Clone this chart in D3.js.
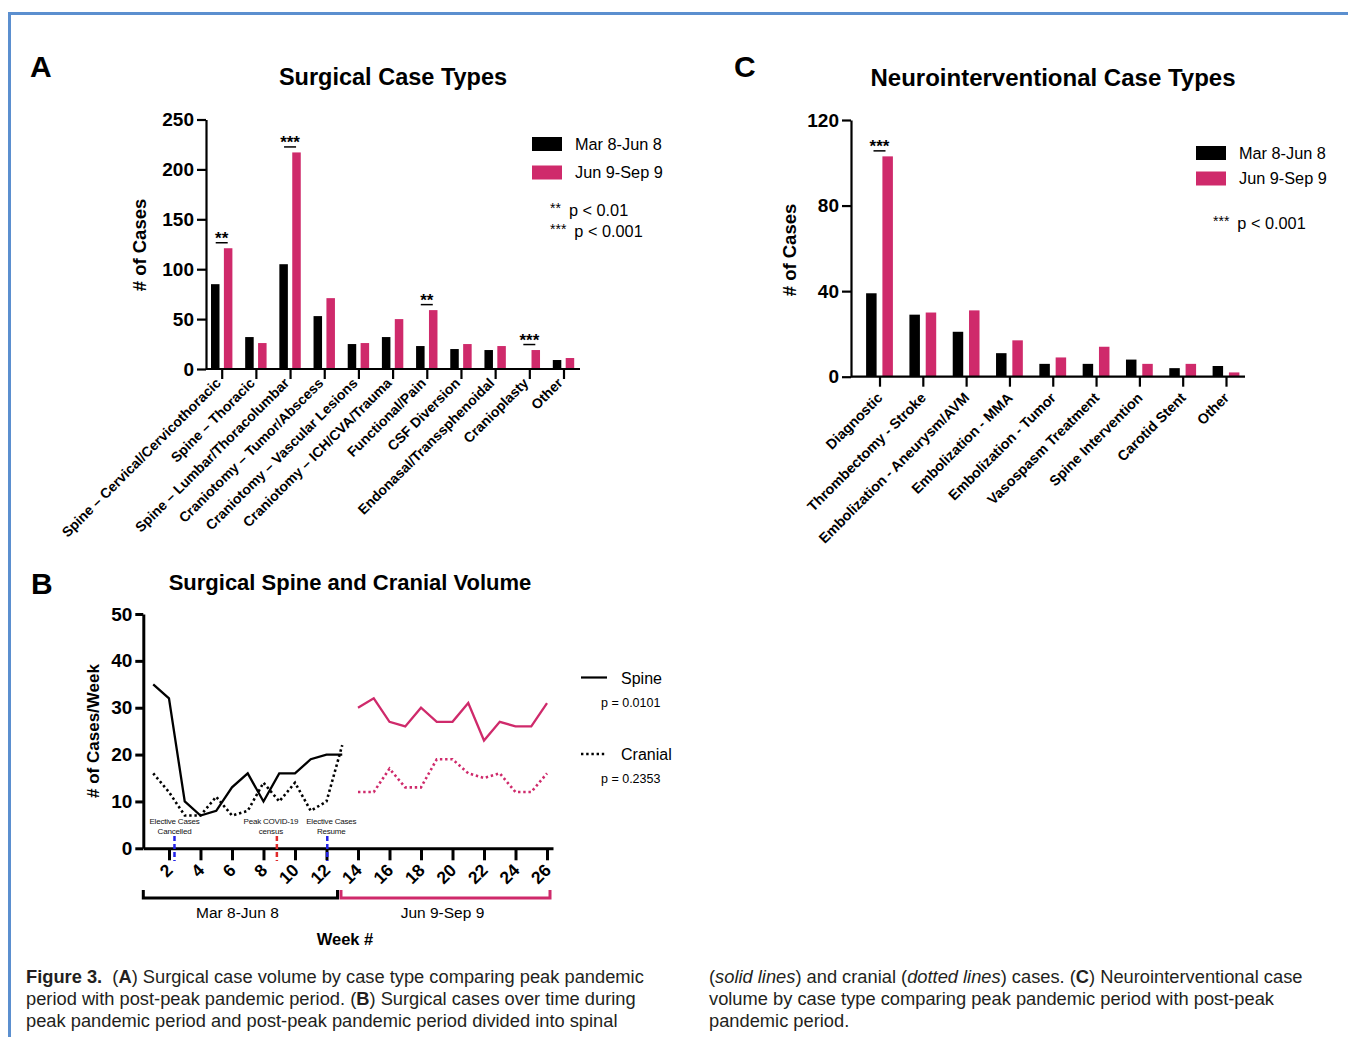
<!DOCTYPE html>
<html>
<head>
<meta charset="utf-8">
<script src="https://cdn.jsdelivr.net/npm/d3@7"></script>
<style>
  body { margin: 0; background: #fff; }
  svg { display: block; font-family: Arial, "Liberation Sans", Helvetica, sans-serif; }
</style>
</head>
<body>
<div id="chart"></div>
<script>
// ---------- data ----------
var periods = ["Mar 8-Jun 8", "Jun 9-Sep 9"];

// A - surgical case types
var surgCategories = ["Spine – Cervical/Cervicothoracic", "Spine – Thoracic", "Spine – Lumbar/Thoracolumbar",
  "Craniotomy – Tumor/Abscess", "Craniotomy – Vascular Lesions", "Craniotomy – ICH/CVA/Trauma",
  "Functional/Pain", "CSF Diversion", "Endonasal/Transsphenoidal", "Cranioplasty", "Other"];
var surgPeak = [85, 32, 105, 53, 25, 32, 23, 20, 19, 0, 9];
var surgPost = [121, 26, 217, 71, 26, 50, 59, 25, 23, 19, 11];
var surgSig = [
  {cat: "Spine – Cervical/Cervicothoracic", label: "**"},
  {cat: "Spine – Lumbar/Thoracolumbar", label: "***"},
  {cat: "Functional/Pain", label: "**"},
  {cat: "Cranioplasty", label: "***"}
];
var surgYTicks = [0, 50, 100, 150, 200, 250];

// C - neurointerventional case types
var niCategories = ["Diagnostic", "Thrombectomy - Stroke", "Embolization - Aneurysm/AVM", "Embolization - MMA",
  "Embolization - Tumor", "Vasospasm Treatment", "Spine Intervention", "Carotid Stent", "Other"];
var niPeak = [39, 29, 21, 11, 6, 6, 8, 4, 5];
var niPost = [103, 30, 31, 17, 9, 14, 6, 6, 2];
var niSig = [{cat: "Diagnostic", label: "***"}];
var niYTicks = [0, 40, 80, 120];

// B - weekly volume
var weeksPeak = [1, 2, 3, 4, 5, 6, 7, 8, 9, 10, 11, 12, 13];
var weeksPost = [14, 15, 16, 17, 18, 19, 20, 21, 22, 23, 24, 25, 26];
var spinePeak = [35, 32, 10, 7, 8, 13, 16, 10, 16, 16, 19, 20, 20];
var cranialPeak = [16, 12, 7, 7, 11, 7, 8, 14, 10, 14, 8, 10, 22];
var spinePost = [30, 32, 27, 26, 30, 27, 27, 31, 23, 27, 26, 26, 31];
var cranialPost = [12, 12, 17, 13, 13, 19, 19, 16, 15, 16, 12, 12, 16];
var weekTicks = [2, 4, 6, 8, 10, 12, 14, 16, 18, 20, 22, 24, 26];
var weeklyYTicks = [0, 10, 20, 30, 40, 50];
var events = [
  {week: 2.35, lines: ["Elective Cases", "Cancelled"], color: "#2323e8", dx: 0},
  {week: 8.85, lines: ["Peak COVID-19", "census"], color: "#e02a2a", dx: -6},
  {week: 12.05, lines: ["Elective Cases", "Resume"], color: "#2323e8", dx: 4}
];

var PINK = "#cf2a6b";
var color = d3.scaleOrdinal().domain(periods).range(["#000", PINK]);

var svg = d3.select("#chart").append("svg")
    .attr("width", 1348)
    .attr("height", 1037);

// frame
svg.append("path")
  .attr("d", "M1348,13.5H9.5V1037")
  .attr("fill", "none")
  .attr("stroke", "#5b8fcf")
  .attr("stroke-width", 3);

function styleAxis(sel, w, fs) {
  sel.selectAll("path, line").attr("stroke", "#000").attr("stroke-width", w);
  sel.selectAll("text").attr("font-size", fs).attr("font-weight", "bold").attr("fill", "#000")
    .attr("font-family", "Arial, 'Liberation Sans', sans-serif");
}

/* ---------------------- */
/* BAR PANEL */
/* ---------------------- */
function drawBars(o) {
  var g = svg.append("g");
  var y = d3.scaleLinear().domain([0, o.yMax]).range([o.y0, o.y1]);
  var x = d3.scalePoint().domain(o.categories).range([o.c0, o.c1]);
  var sub = d3.scaleBand().domain(periods).range([-o.half, o.half]).paddingInner(o.gap);

  var rows = o.categories.map(function(c, i) {
    return {cat: c, values: [{p: periods[0], v: o.peak[i]}, {p: periods[1], v: o.post[i]}]};
  });

  g.selectAll("g.grp")
    .data(rows)
    .enter()
    .append("g")
    .attr("class", "grp")
    .attr("transform", d => "translate(" + x(d.cat) + ",0)")
    .selectAll("rect")
    .data(d => d.values)
    .enter()
    .append("rect")
    .attr("x", d => sub(d.p))
    .attr("width", sub.bandwidth())
    .attr("y", d => y(d.v))
    .attr("height", d => y(0) - y(d.v))
    .attr("fill", d => color(d.p));

  // y axis
  var ya = g.append("g")
    .attr("transform", "translate(" + o.xAxis + ",0)")
    .call(d3.axisLeft(y).tickValues(o.yTicks).tickSize(9).tickSizeOuter(0).tickPadding(3));
  styleAxis(ya, 2.2, 19);

  // x axis
  var xa = g.append("g")
    .attr("transform", "translate(0," + y(0) + ")")
    .call(d3.axisBottom(x).tickSize(10).tickFormat(""));
  xa.select(".domain").remove();
  styleAxis(xa, 2.2, 13);
  g.append("line")
    .attr("x1", o.xAxis).attr("x2", o.xEnd)
    .attr("y1", y(0)).attr("y2", y(0))
    .attr("stroke", "#000").attr("stroke-width", 2.2);

  g.selectAll("text.xl")
    .data(o.categories)
    .enter()
    .append("text")
    .attr("class", "xl")
    .attr("text-anchor", "end")
    .attr("font-size", o.lfs)
    .attr("font-weight", "bold")
    .attr("transform", d => "translate(" + (x(d) + o.lx) + "," + (y(0) + o.ly) + ") rotate(-45)")
    .text(d => d);

  // significance marks
  var sig = g.selectAll("g.sig")
    .data(o.sig)
    .enter()
    .append("g")
    .attr("class", "sig")
    .attr("transform", d => "translate(" + x(d.cat) + "," + (y(o.post[o.categories.indexOf(d.cat)]) - 5.5) + ")");
  sig.append("line")
    .attr("x1", -6).attr("x2", 6)
    .attr("stroke", "#000").attr("stroke-width", 1.5);
  sig.append("text")
    .attr("text-anchor", "middle")
    .attr("y", 1)
    .attr("font-size", 17)
    .attr("font-weight", "bold")
    .text(d => d.label);

  // axis title
  g.append("text")
    .attr("transform", "translate(" + o.ylabX + "," + o.ylabY + ") rotate(-90)")
    .attr("text-anchor", "middle")
    .attr("font-size", 18.5)
    .attr("font-weight", "bold")
    .text("# of Cases");

  g.append("text")
    .attr("x", o.titleX).attr("y", o.titleY)
    .attr("text-anchor", "middle")
    .attr("font-size", o.tfs)
    .attr("font-weight", "bold")
    .text(o.title);

  g.append("text")
    .attr("x", o.letterX).attr("y", 77)
    .attr("font-size", 30)
    .attr("font-weight", "bold")
    .text(o.letter);

  // legend
  var lg = g.append("g").attr("transform", "translate(" + o.legX + "," + o.legY + ")");
  var li = lg.selectAll("g")
    .data(periods)
    .enter()
    .append("g")
    .attr("transform", (d, i) => "translate(0," + i * o.legStep + ")");
  li.append("rect").attr("width", 30).attr("height", 14).attr("fill", d => color(d));
  li.append("text").attr("x", 43).attr("y", 12.5).attr("font-size", 16.3).text(d => d);

  var pl = lg.selectAll("text.pv")
    .data(o.pvals)
    .enter()
    .append("text")
    .attr("class", "pv")
    .attr("x", o.pvX)
    .attr("y", (d, i) => o.pvY + i * 21)
    .attr("font-size", 16.3);
  pl.append("tspan").attr("font-size", 14).attr("dy", -3).text(d => d[0]);
  pl.append("tspan").attr("dy", 3).attr("dx", 8).text(d => d[1]);
}

drawBars({
  categories: surgCategories, peak: surgPeak, post: surgPost, sig: surgSig,
  yMax: 250, yTicks: surgYTicks, y0: 369, y1: 119.5,
  c0: 221.7, c1: 563.5, half: 10.7, gap: 0.34,
  xAxis: 206, xEnd: 580, lx: 0, ly: 15, lfs: 14,
  ylabX: 146, ylabY: 245,
  title: "Surgical Case Types", titleX: 393, titleY: 85, tfs: 23.5,
  letter: "A", letterX: 30,
  legX: 532, legY: 137, legStep: 28.5,
  pvals: [["**", "p < 0.01"], ["***", "p < 0.001"]], pvX: 18, pvY: 79
});

drawBars({
  categories: niCategories, peak: niPeak, post: niPost, sig: niSig,
  yMax: 120, yTicks: niYTicks, y0: 376.7, y1: 120,
  c0: 879.5, c1: 1226, half: 13.4, gap: 0.356,
  xAxis: 851, xEnd: 1245, lx: 4, ly: 22, lfs: 14.3,
  ylabX: 796, ylabY: 250,
  title: "Neurointerventional Case Types", titleX: 1053, titleY: 86, tfs: 24,
  letter: "C", letterX: 734,
  legX: 1196, legY: 146, legStep: 25.5,
  pvals: [["***", "p < 0.001"]], pvX: 17, pvY: 83
});

/* ---------------------- */
/* LINE PANEL */
/* ---------------------- */
var gb = svg.append("g");
var xw = d3.scaleLinear().domain([0.37, 26.38]).range([143.3, 553]);
var yw = d3.scaleLinear().domain([0, 50]).range([848.3, 614]);

var line = d3.line().x(d => xw(d.w)).y(d => yw(d.v));
function pts(weeks, vals) { return weeks.map((w, i) => ({w: w, v: vals[i]})); }

var series = [
  {data: pts(weeksPeak, spinePeak), color: "#000", dash: null},
  {data: pts(weeksPeak, cranialPeak), color: "#000", dash: "2.4,2.8"},
  {data: pts(weeksPost, spinePost), color: PINK, dash: null},
  {data: pts(weeksPost, cranialPost), color: PINK, dash: "2.4,2.8"}
];

gb.selectAll("path.series")
  .data(series)
  .enter()
  .append("path")
  .attr("class", "series")
  .attr("d", d => line(d.data))
  .attr("fill", "none")
  .attr("stroke", d => d.color)
  .attr("stroke-width", d => d.dash ? 2.6 : 2.3)
  .attr("stroke-dasharray", d => d.dash);

var yaw = gb.append("g")
  .attr("transform", "translate(" + xw(0.37) + ",0)")
  .call(d3.axisLeft(yw).tickValues(weeklyYTicks).tickSize(8).tickSizeOuter(0).tickPadding(3));
styleAxis(yaw, 3, 19);

var xaw = gb.append("g")
  .attr("transform", "translate(0," + yw(0) + ")")
  .call(d3.axisBottom(xw).tickValues(weekTicks).tickSize(12).tickSizeOuter(0).tickFormat(""));
styleAxis(xaw, 3, 17);

gb.selectAll("text.wk")
  .data(weekTicks)
  .enter()
  .append("text")
  .attr("class", "wk")
  .attr("text-anchor", "end")
  .attr("font-size", 17.5)
  .attr("font-weight", "bold")
  .attr("transform", d => "translate(" + (xw(d) + 5) + "," + (yw(0) + 23) + ") rotate(-45)")
  .text(d => d);

// events
var ev = gb.selectAll("g.ev")
  .data(events)
  .enter()
  .append("g")
  .attr("class", "ev")
  .attr("transform", d => "translate(" + xw(d.week) + ",0)");
ev.append("line")
  .attr("y1", 836).attr("y2", 861)
  .attr("stroke", d => d.color)
  .attr("stroke-width", 2.5)
  .attr("stroke-dasharray", "5,3");
ev.selectAll("text")
  .data(d => d.lines.map(t => ({t: t, dx: d.dx})))
  .enter()
  .append("text")
  .attr("x", d => d.dx)
  .attr("y", (d, i) => 823.5 + i * 10)
  .attr("text-anchor", "middle")
  .attr("font-size", 8)
  .attr("letter-spacing", -0.2)
  .attr("fill", "#111")
  .text(d => d.t);

// period brackets
var brackets = [
  {from: 0.37, to: 12.7, color: "#000", label: periods[0]},
  {from: 12.92, to: 26.19, color: PINK, label: periods[1]}
];
gb.selectAll("path.br")
  .data(brackets)
  .enter()
  .append("path")
  .attr("class", "br")
  .attr("d", d => "M" + xw(d.from) + ",890V898H" + xw(d.to) + "V890")
  .attr("fill", "none")
  .attr("stroke", d => d.color)
  .attr("stroke-width", 3);
gb.selectAll("text.br")
  .data(brackets)
  .enter()
  .append("text")
  .attr("class", "br")
  .attr("x", d => (xw(d.from) + xw(d.to)) / 2 - 3)
  .attr("y", 918)
  .attr("text-anchor", "middle")
  .attr("font-size", 15.5)
  .text(d => d.label);

gb.append("text")
  .attr("x", 345).attr("y", 945)
  .attr("text-anchor", "middle")
  .attr("font-size", 16.5)
  .attr("font-weight", "bold")
  .text("Week #");

gb.append("text")
  .attr("transform", "translate(99,731) rotate(-90)")
  .attr("text-anchor", "middle")
  .attr("font-size", 17)
  .attr("font-weight", "bold")
  .text("# of Cases/Week");

gb.append("text")
  .attr("x", 350).attr("y", 590)
  .attr("text-anchor", "middle")
  .attr("font-size", 22)
  .attr("font-weight", "bold")
  .text("Surgical Spine and Cranial Volume");

gb.append("text")
  .attr("x", 31).attr("y", 594)
  .attr("font-size", 30)
  .attr("font-weight", "bold")
  .text("B");

// legend B
var legB = [
  {name: "Spine", p: "p = 0.0101", dash: null, y: 677.5},
  {name: "Cranial", p: "p = 0.2353", dash: "2.4,2.8", y: 754}
];
var lb = gb.selectAll("g.lb")
  .data(legB)
  .enter()
  .append("g")
  .attr("class", "lb")
  .attr("transform", d => "translate(581," + d.y + ")");
lb.append("line")
  .attr("x1", 0).attr("x2", 26)
  .attr("stroke", "#000")
  .attr("stroke-width", d => d.dash ? 2.4 : 2.2)
  .attr("stroke-dasharray", d => d.dash);
lb.append("text").attr("x", 40).attr("y", 6).attr("font-size", 16).text(d => d.name);
lb.append("text").attr("x", 20).attr("y", 29).attr("font-size", 12.5).text(d => d.p);

/* ---------------------- */
/* CAPTION */
/* ---------------------- */
var caption = [
  {x: 26, y: 983, parts: [["b", "Figure 3."], ["n", "  ("], ["b", "A"], ["n", ") Surgical case volume by case type comparing peak pandemic"]]},
  {x: 26, y: 1005, parts: [["n", "period with post-peak pandemic period. ("], ["b", "B"], ["n", ") Surgical cases over time during"]]},
  {x: 26, y: 1027, parts: [["n", "peak pandemic period and post-peak pandemic period divided into spinal"]]},
  {x: 709, y: 983, parts: [["n", "("], ["i", "solid lines"], ["n", ") and cranial ("], ["i", "dotted lines"], ["n", ") cases. ("], ["b", "C"], ["n", ") Neurointerventional case"]]},
  {x: 709, y: 1005, parts: [["n", "volume by case type comparing peak pandemic period with post-peak"]]},
  {x: 709, y: 1027, parts: [["n", "pandemic period."]]}
];
var cap = svg.selectAll("text.cap")
  .data(caption)
  .enter()
  .append("text")
  .attr("class", "cap")
  .attr("x", d => d.x)
  .attr("y", d => d.y)
  .attr("font-size", 18.3)
  .attr("fill", "#231f20")
  .style("white-space", "pre");
cap.selectAll("tspan")
  .data(d => d.parts)
  .enter()
  .append("tspan")
  .attr("font-weight", d => d[0] == "b" ? "bold" : null)
  .attr("font-style", d => d[0] == "i" ? "italic" : null)
  .text(d => d[1]);
</script>
</body>
</html>
